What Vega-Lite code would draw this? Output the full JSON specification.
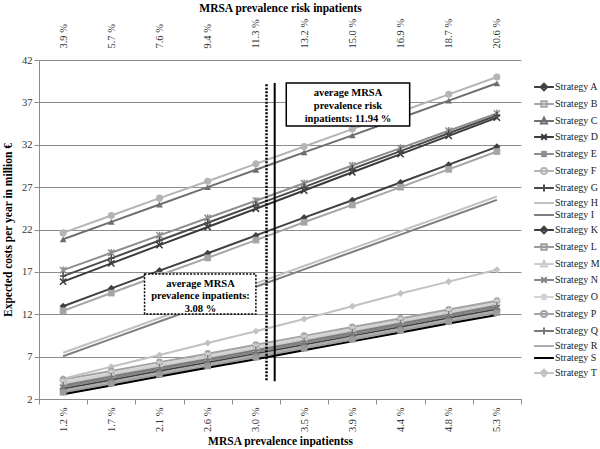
{
  "$schema": "https://vega.github.io/schema/vega-lite/v6.json",
  "width": 482,
  "height": 339,
  "padding": {"left": 2, "top": 2, "right": 0, "bottom": 0},
  "background": "white",
  "config": {
    "view": {"stroke": null},
    "font": "Liberation Serif",
    "axis": {"labelFont": "Liberation Serif", "titleFont": "Liberation Serif", "labelFontSize": 10.5, "titleFontSize": 11.5, "labelColor": "#333333", "titleColor": "#000000", "titleFontWeight": "bold"},
    "legend": {"labelFont": "Liberation Serif", "labelFontSize": 10, "labelColor": "#222222"}
  },
  "datasets": {
    "costs": [
      {"strategy":"Strategy A","idx":1,"cost":12.95},{"strategy":"Strategy A","idx":2,"cost":15.05},{"strategy":"Strategy A","idx":3,"cost":17.15},{"strategy":"Strategy A","idx":4,"cost":19.2},{"strategy":"Strategy A","idx":5,"cost":21.3},{"strategy":"Strategy A","idx":6,"cost":23.4},{"strategy":"Strategy A","idx":7,"cost":25.45},{"strategy":"Strategy A","idx":8,"cost":27.55},{"strategy":"Strategy A","idx":9,"cost":29.65},{"strategy":"Strategy A","idx":10,"cost":31.75},
      {"strategy":"Strategy B","idx":1,"cost":12.4},{"strategy":"Strategy B","idx":2,"cost":14.5},{"strategy":"Strategy B","idx":3,"cost":16.6},{"strategy":"Strategy B","idx":4,"cost":18.65},{"strategy":"Strategy B","idx":5,"cost":20.75},{"strategy":"Strategy B","idx":6,"cost":22.85},{"strategy":"Strategy B","idx":7,"cost":24.9},{"strategy":"Strategy B","idx":8,"cost":27.0},{"strategy":"Strategy B","idx":9,"cost":29.1},{"strategy":"Strategy B","idx":10,"cost":31.2},
      {"strategy":"Strategy C","idx":1,"cost":20.85},{"strategy":"Strategy C","idx":2,"cost":22.9},{"strategy":"Strategy C","idx":3,"cost":24.95},{"strategy":"Strategy C","idx":4,"cost":27.0},{"strategy":"Strategy C","idx":5,"cost":29.05},{"strategy":"Strategy C","idx":6,"cost":31.1},{"strategy":"Strategy C","idx":7,"cost":33.1},{"strategy":"Strategy C","idx":8,"cost":35.15},{"strategy":"Strategy C","idx":9,"cost":37.2},{"strategy":"Strategy C","idx":10,"cost":39.25},
      {"strategy":"Strategy D","idx":1,"cost":15.85},{"strategy":"Strategy D","idx":2,"cost":18.0},{"strategy":"Strategy D","idx":3,"cost":20.15},{"strategy":"Strategy D","idx":4,"cost":22.3},{"strategy":"Strategy D","idx":5,"cost":24.45},{"strategy":"Strategy D","idx":6,"cost":26.6},{"strategy":"Strategy D","idx":7,"cost":28.75},{"strategy":"Strategy D","idx":8,"cost":30.9},{"strategy":"Strategy D","idx":9,"cost":33.05},{"strategy":"Strategy D","idx":10,"cost":35.2},
      {"strategy":"Strategy E","idx":1,"cost":17.2},{"strategy":"Strategy E","idx":2,"cost":19.25},{"strategy":"Strategy E","idx":3,"cost":21.3},{"strategy":"Strategy E","idx":4,"cost":23.35},{"strategy":"Strategy E","idx":5,"cost":25.4},{"strategy":"Strategy E","idx":6,"cost":27.45},{"strategy":"Strategy E","idx":7,"cost":29.55},{"strategy":"Strategy E","idx":8,"cost":31.6},{"strategy":"Strategy E","idx":9,"cost":33.65},{"strategy":"Strategy E","idx":10,"cost":35.7},
      {"strategy":"Strategy F","idx":1,"cost":21.6},{"strategy":"Strategy F","idx":2,"cost":23.65},{"strategy":"Strategy F","idx":3,"cost":25.7},{"strategy":"Strategy F","idx":4,"cost":27.7},{"strategy":"Strategy F","idx":5,"cost":29.75},{"strategy":"Strategy F","idx":6,"cost":31.8},{"strategy":"Strategy F","idx":7,"cost":33.85},{"strategy":"Strategy F","idx":8,"cost":35.9},{"strategy":"Strategy F","idx":9,"cost":37.95},{"strategy":"Strategy F","idx":10,"cost":40.0},
      {"strategy":"Strategy G","idx":1,"cost":16.5},{"strategy":"Strategy G","idx":2,"cost":18.6},{"strategy":"Strategy G","idx":3,"cost":20.7},{"strategy":"Strategy G","idx":4,"cost":22.8},{"strategy":"Strategy G","idx":5,"cost":24.9},{"strategy":"Strategy G","idx":6,"cost":27.0},{"strategy":"Strategy G","idx":7,"cost":29.15},{"strategy":"Strategy G","idx":8,"cost":31.25},{"strategy":"Strategy G","idx":9,"cost":33.35},{"strategy":"Strategy G","idx":10,"cost":35.45},
      {"strategy":"Strategy H","idx":1,"cost":7.45},{"strategy":"Strategy H","idx":2,"cost":9.5},{"strategy":"Strategy H","idx":3,"cost":11.55},{"strategy":"Strategy H","idx":4,"cost":13.6},{"strategy":"Strategy H","idx":5,"cost":15.65},{"strategy":"Strategy H","idx":6,"cost":17.7},{"strategy":"Strategy H","idx":7,"cost":19.75},{"strategy":"Strategy H","idx":8,"cost":21.8},{"strategy":"Strategy H","idx":9,"cost":23.85},{"strategy":"Strategy H","idx":10,"cost":25.9},
      {"strategy":"Strategy I","idx":1,"cost":7.05},{"strategy":"Strategy I","idx":2,"cost":9.1},{"strategy":"Strategy I","idx":3,"cost":11.15},{"strategy":"Strategy I","idx":4,"cost":13.2},{"strategy":"Strategy I","idx":5,"cost":15.25},{"strategy":"Strategy I","idx":6,"cost":17.3},{"strategy":"Strategy I","idx":7,"cost":19.35},{"strategy":"Strategy I","idx":8,"cost":21.4},{"strategy":"Strategy I","idx":9,"cost":23.45},{"strategy":"Strategy I","idx":10,"cost":25.5},
      {"strategy":"Strategy K","idx":1,"cost":3.2},{"strategy":"Strategy K","idx":2,"cost":4.25},{"strategy":"Strategy K","idx":3,"cost":5.3},{"strategy":"Strategy K","idx":4,"cost":6.3},{"strategy":"Strategy K","idx":5,"cost":7.35},{"strategy":"Strategy K","idx":6,"cost":8.4},{"strategy":"Strategy K","idx":7,"cost":9.45},{"strategy":"Strategy K","idx":8,"cost":10.5},{"strategy":"Strategy K","idx":9,"cost":11.55},{"strategy":"Strategy K","idx":10,"cost":12.6},
      {"strategy":"Strategy L","idx":1,"cost":2.8},{"strategy":"Strategy L","idx":2,"cost":3.85},{"strategy":"Strategy L","idx":3,"cost":4.9},{"strategy":"Strategy L","idx":4,"cost":5.9},{"strategy":"Strategy L","idx":5,"cost":6.95},{"strategy":"Strategy L","idx":6,"cost":8.0},{"strategy":"Strategy L","idx":7,"cost":9.05},{"strategy":"Strategy L","idx":8,"cost":10.1},{"strategy":"Strategy L","idx":9,"cost":11.15},{"strategy":"Strategy L","idx":10,"cost":12.2},
      {"strategy":"Strategy M","idx":1,"cost":3.8},{"strategy":"Strategy M","idx":2,"cost":4.85},{"strategy":"Strategy M","idx":3,"cost":5.9},{"strategy":"Strategy M","idx":4,"cost":6.9},{"strategy":"Strategy M","idx":5,"cost":7.95},{"strategy":"Strategy M","idx":6,"cost":9.0},{"strategy":"Strategy M","idx":7,"cost":10.05},{"strategy":"Strategy M","idx":8,"cost":11.1},{"strategy":"Strategy M","idx":9,"cost":12.15},{"strategy":"Strategy M","idx":10,"cost":13.2},
      {"strategy":"Strategy N","idx":1,"cost":3.4},{"strategy":"Strategy N","idx":2,"cost":4.45},{"strategy":"Strategy N","idx":3,"cost":5.5},{"strategy":"Strategy N","idx":4,"cost":6.5},{"strategy":"Strategy N","idx":5,"cost":7.55},{"strategy":"Strategy N","idx":6,"cost":8.6},{"strategy":"Strategy N","idx":7,"cost":9.65},{"strategy":"Strategy N","idx":8,"cost":10.7},{"strategy":"Strategy N","idx":9,"cost":11.75},{"strategy":"Strategy N","idx":10,"cost":12.8},
      {"strategy":"Strategy O","idx":1,"cost":4.0},{"strategy":"Strategy O","idx":2,"cost":5.05},{"strategy":"Strategy O","idx":3,"cost":6.1},{"strategy":"Strategy O","idx":4,"cost":7.1},{"strategy":"Strategy O","idx":5,"cost":8.15},{"strategy":"Strategy O","idx":6,"cost":9.2},{"strategy":"Strategy O","idx":7,"cost":10.25},{"strategy":"Strategy O","idx":8,"cost":11.3},{"strategy":"Strategy O","idx":9,"cost":12.35},{"strategy":"Strategy O","idx":10,"cost":13.4},
      {"strategy":"Strategy P","idx":1,"cost":4.3},{"strategy":"Strategy P","idx":2,"cost":5.3},{"strategy":"Strategy P","idx":3,"cost":6.35},{"strategy":"Strategy P","idx":4,"cost":7.35},{"strategy":"Strategy P","idx":5,"cost":8.4},{"strategy":"Strategy P","idx":6,"cost":9.45},{"strategy":"Strategy P","idx":7,"cost":10.5},{"strategy":"Strategy P","idx":8,"cost":11.5},{"strategy":"Strategy P","idx":9,"cost":12.55},{"strategy":"Strategy P","idx":10,"cost":13.6},
      {"strategy":"Strategy Q","idx":1,"cost":3.6},{"strategy":"Strategy Q","idx":2,"cost":4.65},{"strategy":"Strategy Q","idx":3,"cost":5.7},{"strategy":"Strategy Q","idx":4,"cost":6.7},{"strategy":"Strategy Q","idx":5,"cost":7.75},{"strategy":"Strategy Q","idx":6,"cost":8.8},{"strategy":"Strategy Q","idx":7,"cost":9.85},{"strategy":"Strategy Q","idx":8,"cost":10.9},{"strategy":"Strategy Q","idx":9,"cost":11.95},{"strategy":"Strategy Q","idx":10,"cost":13.0},
      {"strategy":"Strategy R","idx":1,"cost":3.0},{"strategy":"Strategy R","idx":2,"cost":4.05},{"strategy":"Strategy R","idx":3,"cost":5.1},{"strategy":"Strategy R","idx":4,"cost":6.1},{"strategy":"Strategy R","idx":5,"cost":7.15},{"strategy":"Strategy R","idx":6,"cost":8.2},{"strategy":"Strategy R","idx":7,"cost":9.25},{"strategy":"Strategy R","idx":8,"cost":10.3},{"strategy":"Strategy R","idx":9,"cost":11.35},{"strategy":"Strategy R","idx":10,"cost":12.4},
      {"strategy":"Strategy S","idx":1,"cost":2.55},{"strategy":"Strategy S","idx":2,"cost":3.6},{"strategy":"Strategy S","idx":3,"cost":4.65},{"strategy":"Strategy S","idx":4,"cost":5.7},{"strategy":"Strategy S","idx":5,"cost":6.7},{"strategy":"Strategy S","idx":6,"cost":7.75},{"strategy":"Strategy S","idx":7,"cost":8.8},{"strategy":"Strategy S","idx":8,"cost":9.85},{"strategy":"Strategy S","idx":9,"cost":10.9},{"strategy":"Strategy S","idx":10,"cost":11.9},
      {"strategy":"Strategy T","idx":1,"cost":4.4},{"strategy":"Strategy T","idx":2,"cost":5.8},{"strategy":"Strategy T","idx":3,"cost":7.2},{"strategy":"Strategy T","idx":4,"cost":8.6},{"strategy":"Strategy T","idx":5,"cost":10.0},{"strategy":"Strategy T","idx":6,"cost":11.45},{"strategy":"Strategy T","idx":7,"cost":12.95},{"strategy":"Strategy T","idx":8,"cost":14.45},{"strategy":"Strategy T","idx":9,"cost":15.85},{"strategy":"Strategy T","idx":10,"cost":17.25}
    ]
  },
  "data": {"name": "costs"},
  "resolve": {"axis": {"x": "independent"}},
  "layer": [
    {
      "mark": {"type": "line", "strokeWidth": 2},
      "encoding": {
        "x": {"field": "idx", "type": "quantitative", "scale": {"domain": [0.5, 10.5], "nice": false, "zero": false},
          "axis": {"orient": "bottom", "values": [0.5,1.5,2.5,3.5,4.5,5.5,6.5,7.5,8.5,9.5,10.5], "labelExpr": "datum.value < 10 ? ['1.2 %','1.7 %','2.1 %','2.6 %','3.0 %','3.5 %','3.9 %','4.4 %','4.8 %','5.3 %'][floor(datum.value)] : ''", "labelOffset": 24.1, "labelAngle": 270, "labelFlush": false, "labelOverlap": false, "labelBound": false, "labelPadding": 3, "tickSize": 5, "tickColor": "#8c8c8c", "domainColor": "#8c8c8c", "grid": false, "title": "MRSA  prevalence inpatientss", "titlePadding": 4}},
        "y": {"field": "cost", "type": "quantitative", "scale": {"domain": [2, 42], "nice": false, "zero": false},
          "axis": {"values": [2,7,12,17,22,27,32,37,42], "grid": true, "gridColor": "#8c8c8c", "domainColor": "#8c8c8c", "tickColor": "#8c8c8c", "tickSize": 5, "labelPadding": 2, "title": "Expected costs per year in million €", "titlePadding": 8}},
        "color": {"field": "strategy", "type": "nominal", "legend": null,
          "scale": {"range": ["#404040","#a5a5a5","#6e6e6e","#3a3a3a","#8e8e8e","#b4b4b4","#4a4a4a","#c0c0c0","#7f7f7f","#404040","#9b9b9b","#cccccc","#858585","#d3d3d3","#a3a3a3","#7a7a7a","#ababab","#000000","#c2c2c2"]}},
        "detail": {"field": "strategy"}
      }
    },
    {
      "transform": [{"filter": {"field": "strategy", "oneOf": ["Strategy A","Strategy K","Strategy T"]}}],
      "mark": {"type": "point", "shape": "diamond", "filled": true, "size": 50, "opacity": 1},
      "encoding": {"x": {"field": "idx", "type": "quantitative", "axis": null}, "y": {"field": "cost", "type": "quantitative"}, "color": {"field": "strategy", "type": "nominal", "legend": null}}
    },
    {
      "transform": [{"filter": {"field": "strategy", "oneOf": ["Strategy B","Strategy L"]}}],
      "mark": {"type": "point", "shape": "square", "filled": true, "size": 45, "opacity": 1},
      "encoding": {"x": {"field": "idx", "type": "quantitative", "axis": null}, "y": {"field": "cost", "type": "quantitative"}, "color": {"field": "strategy", "type": "nominal", "legend": null}}
    },
    {
      "transform": [{"filter": {"field": "strategy", "oneOf": ["Strategy C","Strategy M"]}}],
      "mark": {"type": "point", "shape": "triangle-up", "filled": true, "size": 45, "opacity": 1},
      "encoding": {"x": {"field": "idx", "type": "quantitative", "axis": null}, "y": {"field": "cost", "type": "quantitative"}, "color": {"field": "strategy", "type": "nominal", "legend": null}}
    },
    {
      "transform": [{"filter": {"field": "strategy", "oneOf": ["Strategy F","Strategy P"]}}],
      "mark": {"type": "point", "shape": "circle", "filled": true, "size": 50, "opacity": 1},
      "encoding": {"x": {"field": "idx", "type": "quantitative", "axis": null}, "y": {"field": "cost", "type": "quantitative"}, "color": {"field": "strategy", "type": "nominal", "legend": null}}
    },
    {
      "transform": [{"filter": {"field": "strategy", "oneOf": ["Strategy D","Strategy N"]}}],
      "mark": {"type": "point", "shape": "M-1,-1L1,1M-1,1L1,-1", "filled": false, "strokeWidth": 1.5, "size": 40, "opacity": 1},
      "encoding": {"x": {"field": "idx", "type": "quantitative", "axis": null}, "y": {"field": "cost", "type": "quantitative"}, "color": {"field": "strategy", "type": "nominal", "legend": null}}
    },
    {
      "transform": [{"filter": {"field": "strategy", "oneOf": ["Strategy E","Strategy O"]}}],
      "mark": {"type": "point", "shape": "M-1,-1L1,1M-1,1L1,-1M0,-1.2L0,1.2", "filled": false, "strokeWidth": 1.5, "size": 40, "opacity": 1},
      "encoding": {"x": {"field": "idx", "type": "quantitative", "axis": null}, "y": {"field": "cost", "type": "quantitative"}, "color": {"field": "strategy", "type": "nominal", "legend": null}}
    },
    {
      "transform": [{"filter": {"field": "strategy", "oneOf": ["Strategy G","Strategy Q"]}}],
      "mark": {"type": "point", "shape": "M0,-1.2L0,1.2M-1,0L1,0", "filled": false, "strokeWidth": 1.5, "size": 40, "opacity": 1},
      "encoding": {"x": {"field": "idx", "type": "quantitative", "axis": null}, "y": {"field": "cost", "type": "quantitative"}, "color": {"field": "strategy", "type": "nominal", "legend": null}}
    },
    {
      "transform": [{"filter": "datum.idx == 1"}],
      "mark": {"type": "point", "filled": false, "opacity": 0, "size": 36},
      "encoding": {
        "stroke": {"field": "strategy", "type": "nominal",
          "legend": {"title": null, "orient": "none", "legendX": 500, "legendY": 22, "padding": 0, "symbolSize": 36, "symbolStrokeWidth": 2, "symbolOpacity": 1, "labelOffset": 6, "rowPadding": 2, "labelFontSize": 10},
          "scale": {"domain": ["Strategy A","Strategy B","Strategy C","Strategy D","Strategy E","Strategy F","Strategy G","Strategy H","Strategy I","Strategy K","Strategy L","Strategy M","Strategy N","Strategy O","Strategy P","Strategy Q","Strategy R","Strategy S","Strategy T"],
            "range": ["#404040","#a5a5a5","#6e6e6e","#3a3a3a","#8e8e8e","#b4b4b4","#4a4a4a","#c0c0c0","#7f7f7f","#404040","#9b9b9b","#cccccc","#858585","#d3d3d3","#a3a3a3","#7a7a7a","#ababab","#000000","#c2c2c2"]}},
        "shape": {"field": "strategy", "type": "nominal",
          "legend": {"title": null, "orient": "none", "legendX": 500, "legendY": 22, "padding": 0, "symbolSize": 36, "symbolStrokeWidth": 2, "symbolOpacity": 1, "labelOffset": 6, "rowPadding": 2, "labelFontSize": 10},
          "scale": {"domain": ["Strategy A","Strategy B","Strategy C","Strategy D","Strategy E","Strategy F","Strategy G","Strategy H","Strategy I","Strategy K","Strategy L","Strategy M","Strategy N","Strategy O","Strategy P","Strategy Q","Strategy R","Strategy S","Strategy T"],
            "range": [
              "M-3.3,0L3.3,0M0,-1.1L1.1,0L0,1.1L-1.1,0Z",
              "M-3.3,0L3.3,0M-0.9,-0.9L0.9,-0.9L0.9,0.9L-0.9,0.9Z",
              "M-3.3,0L3.3,0M0,-1.1L1,0.8L-1,0.8Z",
              "M-3.3,0L3.3,0M-0.9,-0.9L0.9,0.9M-0.9,0.9L0.9,-0.9",
              "M-3.3,0L3.3,0M-0.9,-0.9L0.9,0.9M-0.9,0.9L0.9,-0.9M0,-1.1L0,1.1",
              "M-3.3,0L3.3,0M1,0A1,1,0,1,1,-1,0A1,1,0,1,1,1,0Z",
              "M-3.3,0L3.3,0M0,-1.2L0,1.2",
              "M-3.3,0L3.3,0",
              "M-3.3,0L3.3,0",
              "M-3.3,0L3.3,0M0,-1.1L1.1,0L0,1.1L-1.1,0Z",
              "M-3.3,0L3.3,0M-0.9,-0.9L0.9,-0.9L0.9,0.9L-0.9,0.9Z",
              "M-3.3,0L3.3,0M0,-1.1L1,0.8L-1,0.8Z",
              "M-3.3,0L3.3,0M-0.9,-0.9L0.9,0.9M-0.9,0.9L0.9,-0.9",
              "M-3.3,0L3.3,0M-0.9,-0.9L0.9,0.9M-0.9,0.9L0.9,-0.9M0,-1.1L0,1.1",
              "M-3.3,0L3.3,0M1,0A1,1,0,1,1,-1,0A1,1,0,1,1,1,0Z",
              "M-3.3,0L3.3,0M0,-1.2L0,1.2",
              "M-3.3,0L3.3,0",
              "M-3.3,0L3.3,0",
              "M-3.3,0L3.3,0M0,-1.1L1.1,0L0,1.1L-1.1,0Z"
            ]}}
      }
    },
    {
      "data": {"values": [{}]},
      "mark": {"type": "rule", "color": "black", "strokeWidth": 2.5, "strokeDash": [2, 1.5]},
      "encoding": {
        "x": {"datum": 5.22, "type": "quantitative",
          "axis": {"orient": "top", "values": [1,2,3,4,5,6,7,8,9,10], "labelExpr": "['3.9 %','5.7 %','7.6 %','9.4 %','11.3 %','13.2 %','15.0 %','16.9 %','18.7 %','20.6 %'][datum.value - 1]", "labelAngle": 270, "labelFlush": false, "labelOverlap": false, "labelBound": false, "ticks": false, "domain": false, "grid": false, "labelPadding": 12, "title": "MRSA  prevalence risk inpatients", "titlePadding": 5}},
        "y": {"datum": 4.2, "type": "quantitative"},
        "y2": {"datum": 39.3}
      }
    },
    {
      "data": {"values": [{}]},
      "mark": {"type": "rule", "color": "black", "strokeWidth": 2},
      "encoding": {
        "x": {"datum": 5.39, "type": "quantitative", "axis": null},
        "y": {"datum": 4.1, "type": "quantitative"},
        "y2": {"datum": 39.3}
      }
    },
    {
      "data": {"values": [{}]},
      "mark": {"type": "rect", "fill": "white", "stroke": "black", "strokeWidth": 1.5, "strokeDash": [2, 1.5]},
      "encoding": {
        "x": {"datum": 2.69, "type": "quantitative", "axis": null},
        "x2": {"datum": 5.0},
        "y": {"datum": 16.75, "type": "quantitative"},
        "y2": {"datum": 12.03}
      }
    },
    {
      "data": {"values": [{}]},
      "mark": {"type": "rect", "fill": "white", "stroke": "black", "strokeWidth": 1.5},
      "encoding": {
        "x": {"datum": 5.63, "type": "quantitative", "axis": null},
        "x2": {"datum": 8.19},
        "y": {"datum": 39.29, "type": "quantitative"},
        "y2": {"datum": 34.21}
      }
    },
    {
      "data": {"values": [{}]},
      "mark": {"type": "text", "text": ["average MRSA", "prevalence inpatients:", "3.08 %"], "font": "Liberation Serif", "fontWeight": "bold", "fontSize": 10.5, "lineHeight": 12.5, "align": "center", "baseline": "middle", "color": "black"},
      "encoding": {
        "x": {"datum": 3.85, "type": "quantitative", "axis": null},
        "y": {"datum": 15.6, "type": "quantitative"}
      }
    },
    {
      "data": {"values": [{}]},
      "mark": {"type": "text", "text": ["average MRSA", "prevalence risk", "inpatients:  11.94 %"], "font": "Liberation Serif", "fontWeight": "bold", "fontSize": 10.5, "lineHeight": 13, "align": "center", "baseline": "middle", "color": "black"},
      "encoding": {
        "x": {"datum": 6.91, "type": "quantitative", "axis": null},
        "y": {"datum": 38.15, "type": "quantitative"}
      }
    }
  ]
}
